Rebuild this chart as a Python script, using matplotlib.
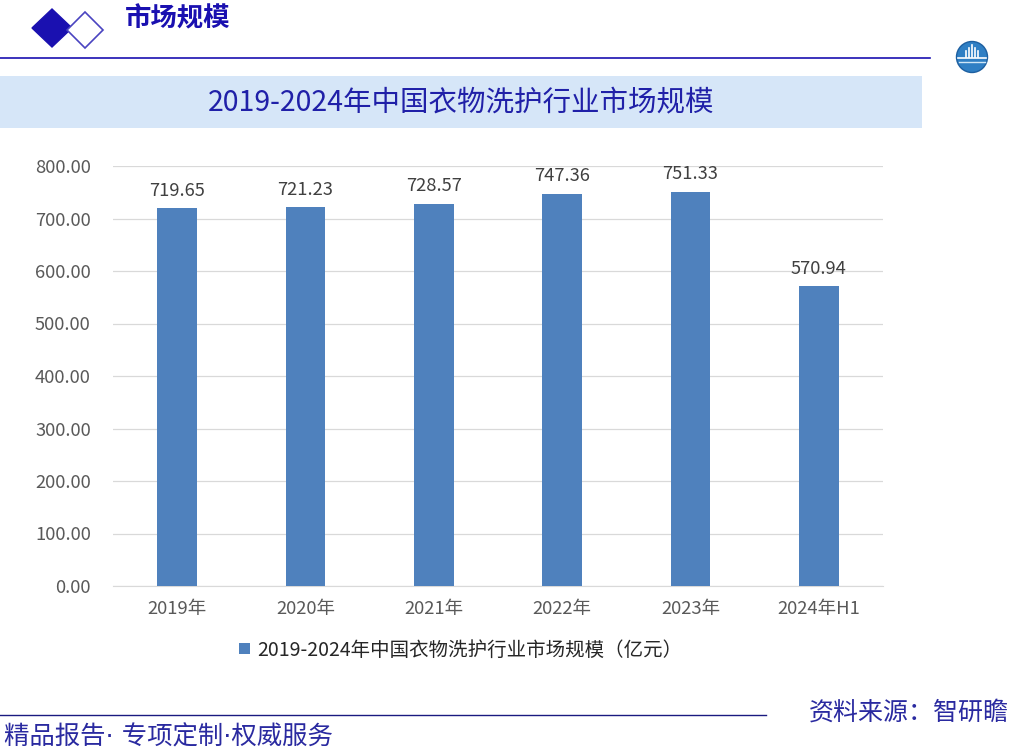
import matplotlib
matplotlib.use("Agg")
import matplotlib.pyplot as plt
from matplotlib.patches import Rectangle, Polygon, Circle
import numpy as np

plt.rcParams['font.family'] = ['Noto Sans CJK SC', 'DejaVu Sans']

categories = ["2019年", "2020年", "2021年", "2022年", "2023年", "2024年H1"]
values = [719.65, 721.23, 728.57, 747.36, 751.33, 570.94]
yticks = [0, 100, 200, 300, 400, 500, 600, 700, 800]
series_name = "2019-2024年中国衣物洗护行业市场规模（亿元）"
chart_title = "2019-2024年中国衣物洗护行业市场规模"
header = "市场规模"
footer_left = "精品报告· 专项定制·权威服务"
footer_right = "资料来源：智研瞻"

W, H = 1012, 753
fig = plt.figure(figsize=(W / 100, H / 100), dpi=100)

def fx(x):
    return x / W

def fy(y):
    return 1 - y / H

deco = fig.add_axes([0, 0, 1, 1])
deco.set_xlim(0, W)
deco.set_ylim(H, 0)
deco.axis('off')

dark_blue = "#1a10b0"
deco.add_patch(Polygon([(32, 28), (52, 9), (72, 28), (52, 47)], closed=True,
                       facecolor=dark_blue, edgecolor=dark_blue, lw=1))
deco.add_patch(Polygon([(67, 30), (85, 12), (103, 30), (85, 48)], closed=True,
                       facecolor="white", edgecolor="#4a44c0", lw=1.2))
deco.text(125, 19, header, fontsize=19, fontweight='bold', color=dark_blue,
          ha='left', va='center')
deco.plot([0, 930], [58, 58], color=dark_blue, lw=1.2)

# logo
deco.add_patch(Circle((972, 57), 15.5, facecolor="#2f7fc4", edgecolor="#1d5fa0", lw=1))
deco.plot([958, 986], [58, 58], color="white", lw=1.2)
deco.plot([959, 985], [62, 62], color="#cfe6f7", lw=1.0)
for xx, hh in [(966, 6), (969, 9), (972, 12), (975, 9), (978, 6)]:
    deco.plot([xx, xx], [57, 57 - hh], color="white", lw=1.2)

deco.add_patch(Rectangle((0, 76), 922, 52, facecolor="#d6e6f8", edgecolor="none"))
deco.text(461, 102, chart_title, fontsize=20.5, color="#2020a8", ha='center', va='center')

deco.plot([0, 766], [715, 715], color="#1a1a80", lw=1.0)
deco.text(4, 737, footer_left, fontsize=18.3, color="#2a2aa0", ha='left', va='center',
          family=['DejaVu Sans', 'Noto Sans CJK SC'])
deco.text(1009, 713, footer_right, fontsize=18, color="#2a2aa0", ha='right', va='center')

ax = fig.add_axes([fx(113), fy(586), fx(883 - 113), (586 - 166) / H])
x = np.arange(len(categories))
bars = ax.bar(x, values, width=0.31, color="#4f81bd", zorder=3,
              label=series_name)
ax.set_xlim(-0.5, len(categories) - 0.5)
ax.set_ylim(0, 800)
ax.set_yticks(yticks)
ax.set_yticklabels([f"{v:.2f}" for v in yticks])
ax.set_xticks(x)
ax.set_xticklabels(categories)
ax.grid(axis='y', color="#d9d9d9", lw=0.9, zorder=0)
for s in ['top', 'right', 'left']:
    ax.spines[s].set_visible(False)
ax.spines['bottom'].set_color("#d9d9d9")
ax.tick_params(axis='both', length=0, colors="#595959")
ax.tick_params(axis='y', pad=16, labelsize=13.2)
ax.tick_params(axis='x', pad=10, labelsize=13.3)
for b, v in zip(bars, values):
    ax.annotate(f"{v:.2f}", (b.get_x() + b.get_width() / 2, v),
                xytext=(0, 6), textcoords='offset points',
                ha='center', va='bottom', fontsize=13.2, color="#404040")

leg = fig.legend(handles=[bars], labels=[series_name], loc='center',
                 bbox_to_anchor=(fx(461), fy(650)), frameon=False,
                 fontsize=14, handlelength=0.55, handleheight=0.55,
                 handletextpad=0.4)
for t in leg.get_texts():
    t.set_color("#262626")

fig.savefig("out.png", dpi=100)
